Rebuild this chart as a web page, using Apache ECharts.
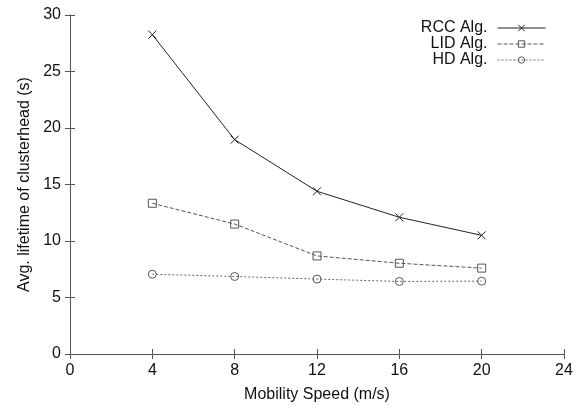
<!DOCTYPE html>
<html>
<head>
<meta charset="utf-8">
<script src="https://cdn.jsdelivr.net/npm/echarts@6/dist/echarts.min.js"></script>
<style>
    html, body { margin: 0; padding: 0; background: #fff; }
    #chart { width: 582px; height: 408px; }
</style>
</head>
<body>
<div id="chart"></div>
<script>
    // mobility speed (m/s)
    const speeds = [4, 8, 12, 16, 20];
    const rcc = [28.26, 18.97, 14.4, 12.1, 10.5];
    const lid = [13.34, 11.5, 8.68, 8.03, 7.6];
    const hd = [7.06, 6.86, 6.63, 6.42, 6.45];

    const font = 'Liberation Sans, Arial, sans-serif';
    const axisColor = '#555';
    const textColor = '#111';
    const crossPath = 'path://M0,0L10,10M0,10L10,0';

    const pairs = arr => speeds.map((s, i) => [s, arr[i]]);

    // top / right frame, ticks only
    const mirror = {
        axisLine: { show: true, lineStyle: { color: axisColor, width: 1 } },
        axisTick: { show: true, inside: true, length: 5, lineStyle: { color: axisColor } },
        axisLabel: { show: false },
        splitLine: { show: false }
    };

    const chart = echarts.init(document.getElementById('chart'), null, { renderer: 'canvas' });
    chart.setOption({
        animation: false,
        grid: { left: 70, top: 15, right: 18, bottom: 52, containLabel: false },
        legend: {
            orient: 'vertical',
            right: 31,
            top: 15,
            align: 'right',
            itemWidth: 48,
            itemHeight: 8,
            itemGap: 0,
            lineStyle: { width: 1 },
            itemStyle: { color: 'transparent', borderWidth: 1 },
            textStyle: { fontFamily: font, fontSize: 16, lineHeight: 15, color: textColor, padding: [0, 5, 0, 0] },
            data: ['RCC Alg.', 'LID Alg.', 'HD Alg.']
        },
        xAxis: [
            {
                type: 'value', min: 0, max: 24, interval: 4,
                name: 'Mobility Speed (m/s)', nameLocation: 'middle', nameGap: 33,
                nameTextStyle: { fontFamily: font, fontSize: 16, color: textColor },
                axisLine: { show: true, lineStyle: { color: axisColor } },
                axisTick: { show: true, inside: true, length: 5, lineStyle: { color: axisColor } },
                axisLabel: { fontFamily: font, fontSize: 16, color: textColor, margin: 9 },
                splitLine: { show: false }
            },
            Object.assign({ type: 'value', position: 'top', min: 0, max: 24, interval: 4 }, mirror)
        ],
        yAxis: [
            {
                type: 'value', min: 0, max: 30, interval: 5,
                name: 'Avg. lifetime of clusterhead (s)', nameLocation: 'middle', nameGap: 36,
                nameTextStyle: { fontFamily: font, fontSize: 16, color: textColor },
                axisLine: { show: true, lineStyle: { color: axisColor } },
                axisTick: { show: true, inside: true, length: 5, lineStyle: { color: axisColor } },
                axisLabel: { fontFamily: font, fontSize: 16, color: textColor, margin: 9 },
                splitLine: { show: false }
            },
            Object.assign({ type: 'value', position: 'right', min: 0, max: 30, interval: 5 }, mirror)
        ],
        series: [
            {
                name: 'RCC Alg.', type: 'line', data: pairs(rcc),
                symbol: crossPath, symbolSize: 8,
                lineStyle: { color: '#222', width: 1, type: 'solid' },
                itemStyle: { color: 'transparent', borderColor: '#222', borderWidth: 1 }
            },
            {
                name: 'LID Alg.', type: 'line', data: pairs(lid),
                symbol: 'rect', symbolSize: 8,
                lineStyle: { color: '#555', width: 1, type: [4, 2] },
                itemStyle: { color: 'transparent', borderColor: '#555', borderWidth: 1 }
            },
            {
                name: 'HD Alg.', type: 'line', data: pairs(hd),
                symbol: 'circle', symbolSize: 8,
                lineStyle: { color: '#666', width: 1, type: [2, 2] },
                itemStyle: { color: 'transparent', borderColor: '#555', borderWidth: 1 }
            }
        ]
    });
</script>
</body>
</html>
